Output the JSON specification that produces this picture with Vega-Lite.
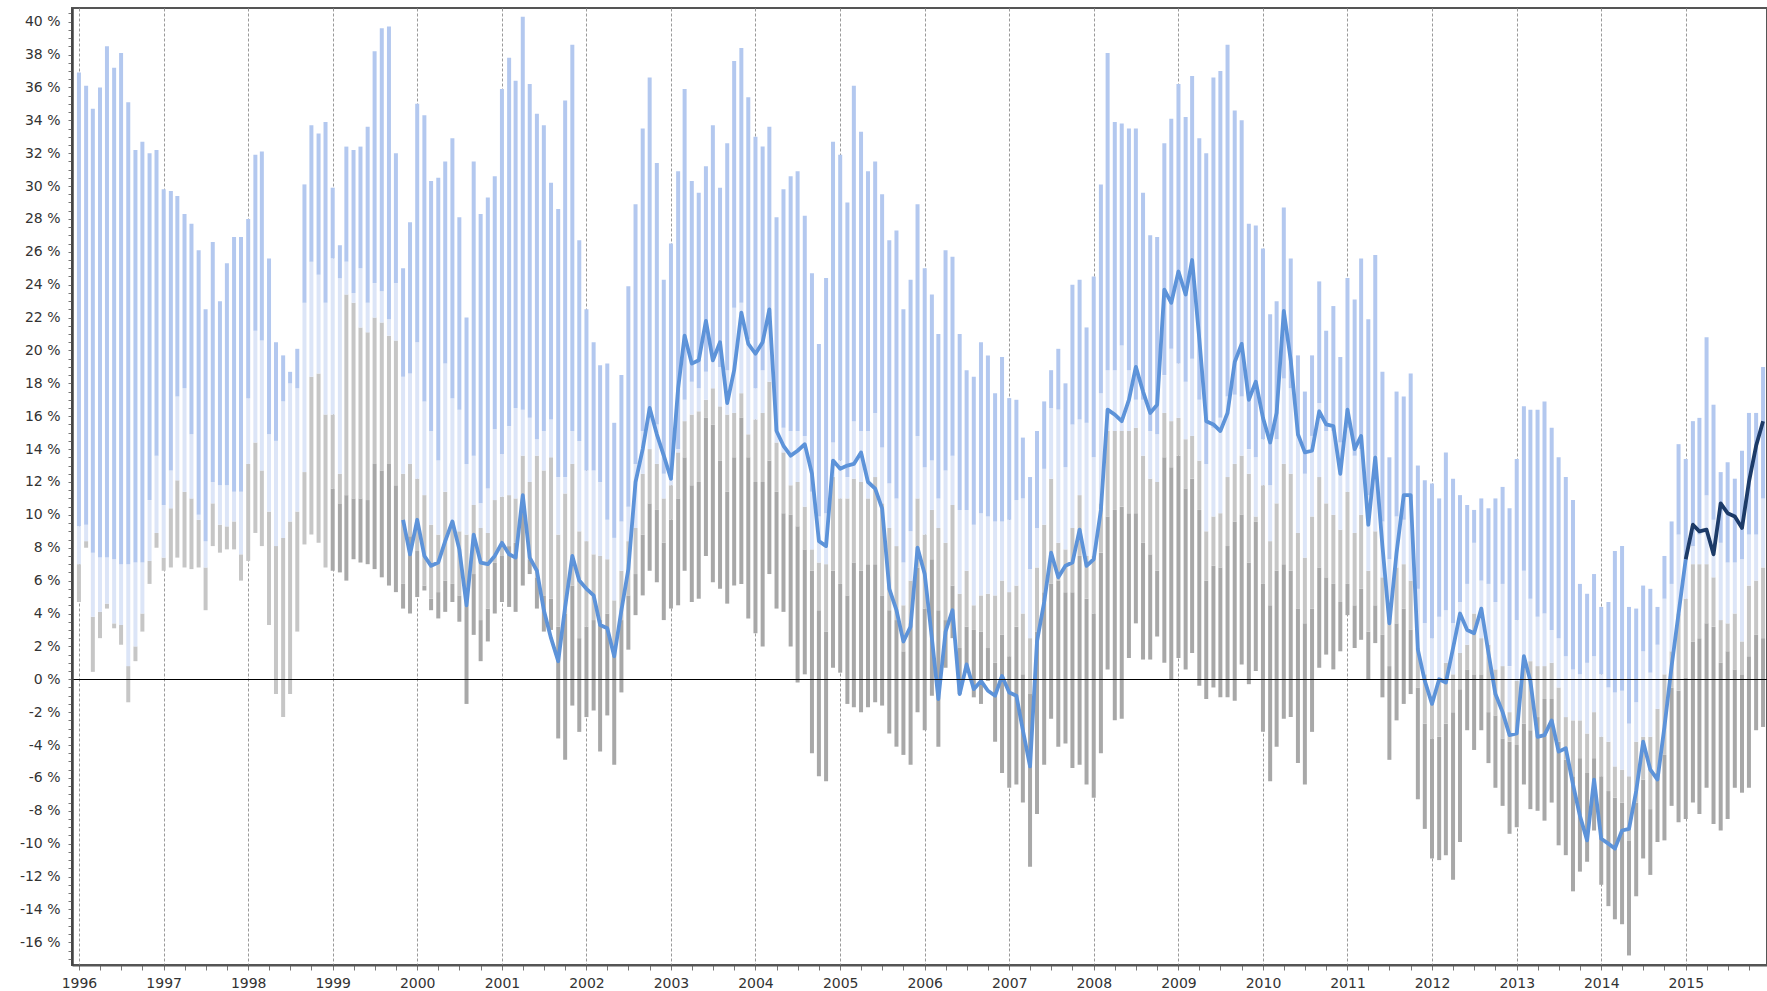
{
"$schema": "https://vega.github.io/schema/vega-lite/v6.json",
"width": 1695, "height": 957,
"autosize": "none",
"padding": {"left": 72, "top": 8, "right": 0, "bottom": 26},
"background": "white",
"config": {
 "view": {"stroke": "#555", "strokeWidth": 2},
 "axis": {"labelFont": "DejaVu Sans", "labelFontSize": 14, "labelColor": "#333"}
},
"data": {"values": [
{"d":"1996-01","hi":36.9,"q3":9.3,"md":7.0,"q1":4.7,"lo":4.7},
{"d":"1996-02","hi":36.1,"q3":9.4,"md":8.4,"q1":8.0,"lo":8.0},
{"d":"1996-03","hi":34.7,"q3":7.7,"md":3.8,"q1":0.45,"lo":0.45},
{"d":"1996-04","hi":36.0,"q3":7.4,"md":4.1,"q1":2.5,"lo":2.5},
{"d":"1996-05","hi":38.5,"q3":7.4,"md":4.6,"q1":4.3,"lo":4.3},
{"d":"1996-06","hi":37.2,"q3":7.3,"md":3.4,"q1":3.1,"lo":3.1},
{"d":"1996-07","hi":38.1,"q3":7.0,"md":3.3,"q1":2.1,"lo":2.1},
{"d":"1996-08","hi":35.1,"q3":7.0,"md":0.8,"q1":-1.4,"lo":-1.4},
{"d":"1996-09","hi":32.2,"q3":7.1,"md":2.0,"q1":1.1,"lo":1.1},
{"d":"1996-10","hi":32.7,"q3":7.1,"md":4.0,"q1":2.9,"lo":2.9},
{"d":"1996-11","hi":32.0,"q3":10.9,"md":7.2,"q1":5.8,"lo":5.8},
{"d":"1996-12","hi":32.2,"q3":13.6,"md":8.9,"q1":8.0,"lo":8.0},
{"d":"1997-01","hi":29.8,"q3":10.6,"md":7.4,"q1":6.6,"lo":6.6},
{"d":"1997-02","hi":29.7,"q3":12.7,"md":10.4,"q1":6.8,"lo":6.8},
{"d":"1997-03","hi":29.4,"q3":17.2,"md":12.1,"q1":7.4,"lo":7.4},
{"d":"1997-04","hi":28.3,"q3":17.7,"md":11.4,"q1":6.8,"lo":6.8},
{"d":"1997-05","hi":27.7,"q3":14.9,"md":11.0,"q1":6.7,"lo":6.7},
{"d":"1997-06","hi":26.1,"q3":10.0,"md":9.7,"q1":6.8,"lo":6.8},
{"d":"1997-07","hi":22.5,"q3":8.4,"md":6.8,"q1":4.2,"lo":4.2},
{"d":"1997-08","hi":26.6,"q3":12.0,"md":10.7,"q1":8.1,"lo":8.1},
{"d":"1997-09","hi":23.0,"q3":11.8,"md":9.4,"q1":7.7,"lo":7.7},
{"d":"1997-10","hi":25.3,"q3":11.8,"md":9.3,"q1":7.9,"lo":7.9},
{"d":"1997-11","hi":26.9,"q3":11.4,"md":9.6,"q1":7.9,"lo":7.9},
{"d":"1997-12","hi":26.9,"q3":11.4,"md":7.6,"q1":6.0,"lo":6.0},
{"d":"1998-01","hi":28.0,"q3":17.1,"md":13.1,"q1":7.2,"lo":7.2},
{"d":"1998-02","hi":31.9,"q3":21.2,"md":14.4,"q1":8.9,"lo":8.9},
{"d":"1998-03","hi":32.1,"q3":20.6,"md":12.7,"q1":8.1,"lo":8.1},
{"d":"1998-04","hi":25.6,"q3":14.9,"md":10.2,"q1":3.3,"lo":3.3},
{"d":"1998-05","hi":20.5,"q3":14.5,"md":8.1,"q1":-0.9,"lo":-0.9},
{"d":"1998-06","hi":19.7,"q3":16.9,"md":8.6,"q1":-2.3,"lo":-2.3},
{"d":"1998-07","hi":18.7,"q3":18.0,"md":9.6,"q1":-0.9,"lo":-0.9},
{"d":"1998-08","hi":20.1,"q3":17.7,"md":10.2,"q1":2.9,"lo":2.9},
{"d":"1998-09","hi":30.1,"q3":22.9,"md":12.6,"q1":8.2,"lo":8.2},
{"d":"1998-10","hi":33.7,"q3":25.4,"md":18.4,"q1":8.8,"lo":8.8},
{"d":"1998-11","hi":33.2,"q3":24.6,"md":18.6,"q1":8.3,"lo":8.3},
{"d":"1998-12","hi":33.9,"q3":22.9,"md":16.1,"q1":6.8,"lo":6.8},
{"d":"1999-01","hi":29.9,"q3":25.6,"md":16.1,"q1":11.6,"lo":6.6},
{"d":"1999-02","hi":26.4,"q3":24.4,"md":12.5,"q1":10.7,"lo":6.5},
{"d":"1999-03","hi":32.4,"q3":25.4,"md":23.4,"q1":11.2,"lo":6.0},
{"d":"1999-04","hi":32.2,"q3":23.5,"md":22.9,"q1":11.0,"lo":7.3},
{"d":"1999-05","hi":32.4,"q3":25.0,"md":21.4,"q1":11.0,"lo":7.1},
{"d":"1999-06","hi":33.6,"q3":22.9,"md":21.1,"q1":10.9,"lo":7.0},
{"d":"1999-07","hi":38.2,"q3":24.1,"md":22.0,"q1":13.1,"lo":6.7},
{"d":"1999-08","hi":39.6,"q3":23.6,"md":21.7,"q1":12.7,"lo":6.2},
{"d":"1999-09","hi":39.7,"q3":21.9,"md":20.9,"q1":13.1,"lo":5.7},
{"d":"1999-10","hi":32.0,"q3":24.1,"md":20.6,"q1":11.8,"lo":5.3},
{"d":"1999-11","hi":25.0,"q3":18.4,"md":12.5,"q1":5.8,"lo":4.3,"v":9.7},
{"d":"1999-12","hi":27.8,"q3":18.6,"md":13.1,"q1":8.7,"lo":4.0,"v":7.6},
{"d":"2000-01","hi":35.0,"q3":20.5,"md":12.2,"q1":7.8,"lo":5.0,"v":9.7},
{"d":"2000-02","hi":34.3,"q3":16.9,"md":11.2,"q1":5.7,"lo":5.4,"v":7.5},
{"d":"2000-03","hi":30.3,"q3":15.1,"md":9.4,"q1":4.9,"lo":4.2,"v":6.9},
{"d":"2000-04","hi":30.5,"q3":13.3,"md":8.8,"q1":5.3,"lo":3.7,"v":7.1},
{"d":"2000-05","hi":31.5,"q3":19.2,"md":11.4,"q1":6.0,"lo":4.1,"v":8.4},
{"d":"2000-06","hi":32.9,"q3":17.1,"md":9.6,"q1":5.8,"lo":4.7,"v":9.6},
{"d":"2000-07","hi":28.1,"q3":16.4,"md":9.0,"q1":5.1,"lo":3.5,"v":7.9},
{"d":"2000-08","hi":22.0,"q3":13.1,"md":8.8,"q1":4.5,"lo":-1.5,"v":4.5},
{"d":"2000-09","hi":31.5,"q3":13.6,"md":10.6,"q1":6.4,"lo":2.7,"v":8.8},
{"d":"2000-10","hi":28.3,"q3":10.7,"md":9.2,"q1":3.6,"lo":1.1,"v":7.1},
{"d":"2000-11","hi":29.3,"q3":11.6,"md":8.9,"q1":4.3,"lo":2.3,"v":7.0},
{"d":"2000-12","hi":30.6,"q3":15.2,"md":10.9,"q1":7.1,"lo":4.0,"v":7.5},
{"d":"2001-01","hi":35.9,"q3":13.7,"md":11.1,"q1":7.5,"lo":4.7,"v":8.3},
{"d":"2001-02","hi":37.8,"q3":15.4,"md":11.2,"q1":8.1,"lo":4.4,"v":7.6},
{"d":"2001-03","hi":36.4,"q3":16.5,"md":11.0,"q1":8.3,"lo":4.1,"v":7.4},
{"d":"2001-04","hi":40.3,"q3":16.4,"md":13.6,"q1":11.0,"lo":5.7,"v":11.2},
{"d":"2001-05","hi":36.2,"q3":15.9,"md":12.0,"q1":7.3,"lo":6.4,"v":7.4},
{"d":"2001-06","hi":34.4,"q3":14.6,"md":13.6,"q1":6.2,"lo":4.3,"v":6.6},
{"d":"2001-07","hi":33.7,"q3":15.1,"md":12.7,"q1":5.1,"lo":2.9,"v":4.2},
{"d":"2001-08","hi":30.2,"q3":15.8,"md":13.5,"q1":4.9,"lo":3.0,"v":2.5},
{"d":"2001-09","hi":28.6,"q3":12.3,"md":8.8,"q1":3.2,"lo":-3.6,"v":1.1},
{"d":"2001-10","hi":35.2,"q3":12.3,"md":11.3,"q1":4.0,"lo":-4.9,"v":4.4},
{"d":"2001-11","hi":38.6,"q3":15.1,"md":13.1,"q1":5.7,"lo":-1.6,"v":7.5},
{"d":"2001-12","hi":26.7,"q3":14.5,"md":9.0,"q1":2.5,"lo":-3.2,"v":6.0},
{"d":"2002-01","hi":22.5,"q3":12.7,"md":8.4,"q1":3.2,"lo":-2.3,"v":5.5},
{"d":"2002-02","hi":20.5,"q3":12.7,"md":7.6,"q1":3.6,"lo":-1.9,"v":5.1},
{"d":"2002-03","hi":19.1,"q3":12.0,"md":7.5,"q1":3.6,"lo":-4.4,"v":3.3},
{"d":"2002-04","hi":19.2,"q3":9.7,"md":7.3,"q1":4.0,"lo":-2.2,"v":3.1},
{"d":"2002-05","hi":15.6,"q3":8.6,"md":4.8,"q1":1.7,"lo":-5.2,"v":1.4},
{"d":"2002-06","hi":18.5,"q3":9.6,"md":6.6,"q1":3.6,"lo":-0.8,"v":4.2},
{"d":"2002-07","hi":23.9,"q3":10.5,"md":8.4,"q1":5.1,"lo":1.8,"v":6.7},
{"d":"2002-08","hi":28.9,"q3":13.1,"md":9.2,"q1":6.4,"lo":3.9,"v":12.0},
{"d":"2002-09","hi":33.5,"q3":15.1,"md":12.5,"q1":8.8,"lo":5.1,"v":14.0},
{"d":"2002-10","hi":36.6,"q3":16.2,"md":14.0,"q1":10.7,"lo":6.6,"v":16.5},
{"d":"2002-11","hi":31.4,"q3":15.5,"md":13.1,"q1":10.3,"lo":5.9,"v":14.9},
{"d":"2002-12","hi":24.3,"q3":12.5,"md":11.0,"q1":8.3,"lo":3.6,"v":13.6},
{"d":"2003-01","hi":26.5,"q3":12.1,"md":11.8,"q1":9.7,"lo":4.3,"v":12.2},
{"d":"2003-02","hi":30.9,"q3":14.0,"md":13.8,"q1":11.0,"lo":4.5,"v":17.7},
{"d":"2003-03","hi":35.9,"q3":17.0,"md":15.7,"q1":13.5,"lo":6.6,"v":20.9},
{"d":"2003-04","hi":30.3,"q3":18.1,"md":16.1,"q1":11.8,"lo":4.7,"v":19.2},
{"d":"2003-05","hi":29.6,"q3":17.7,"md":16.3,"q1":12.0,"lo":4.9,"v":19.4},
{"d":"2003-06","hi":31.2,"q3":18.7,"md":17.0,"q1":15.9,"lo":7.5,"v":21.8},
{"d":"2003-07","hi":33.7,"q3":19.4,"md":17.7,"q1":15.5,"lo":5.9,"v":19.4},
{"d":"2003-08","hi":29.9,"q3":19.0,"md":16.6,"q1":13.3,"lo":5.5,"v":20.5},
{"d":"2003-09","hi":32.6,"q3":18.8,"md":16.1,"q1":11.4,"lo":4.6,"v":16.8},
{"d":"2003-10","hi":37.6,"q3":22.6,"md":16.2,"q1":13.5,"lo":5.7,"v":18.8},
{"d":"2003-11","hi":38.4,"q3":22.9,"md":17.4,"q1":15.9,"lo":5.8,"v":22.3},
{"d":"2003-12","hi":35.4,"q3":20.7,"md":14.9,"q1":13.5,"lo":3.7,"v":20.4},
{"d":"2004-01","hi":33.0,"q3":17.7,"md":15.8,"q1":12.0,"lo":2.8,"v":19.8},
{"d":"2004-02","hi":32.4,"q3":18.8,"md":16.2,"q1":12.0,"lo":2.0,"v":20.5},
{"d":"2004-03","hi":33.6,"q3":22.2,"md":18.1,"q1":13.3,"lo":6.4,"v":22.5},
{"d":"2004-04","hi":28.1,"q3":15.1,"md":14.4,"q1":11.4,"lo":4.3,"v":15.1},
{"d":"2004-05","hi":29.8,"q3":15.3,"md":13.8,"q1":10.1,"lo":4.1,"v":14.2},
{"d":"2004-06","hi":30.6,"q3":15.1,"md":11.8,"q1":10.0,"lo":2.0,"v":13.6},
{"d":"2004-07","hi":30.9,"q3":15.1,"md":12.0,"q1":9.3,"lo":-0.2,"v":13.9},
{"d":"2004-08","hi":28.2,"q3":14.8,"md":10.5,"q1":7.9,"lo":0.3,"v":14.3},
{"d":"2004-09","hi":24.7,"q3":11.4,"md":7.9,"q1":6.6,"lo":-4.5,"v":12.5},
{"d":"2004-10","hi":20.4,"q3":9.9,"md":7.1,"q1":4.2,"lo":-5.9,"v":8.4},
{"d":"2004-11","hi":24.4,"q3":10.1,"md":7.0,"q1":2.9,"lo":-6.2,"v":8.1},
{"d":"2004-12","hi":32.7,"q3":14.4,"md":12.3,"q1":6.6,"lo":0.7,"v":13.3},
{"d":"2005-01","hi":31.9,"q3":13.3,"md":11.0,"q1":5.8,"lo":0.4,"v":12.8},
{"d":"2005-02","hi":29.0,"q3":12.3,"md":11.0,"q1":5.1,"lo":-1.5,"v":13.0},
{"d":"2005-03","hi":36.1,"q3":15.7,"md":12.2,"q1":7.1,"lo":-1.7,"v":13.1},
{"d":"2005-04","hi":33.3,"q3":15.1,"md":12.0,"q1":6.6,"lo":-2.0,"v":13.8},
{"d":"2005-05","hi":30.9,"q3":15.1,"md":11.0,"q1":7.0,"lo":-1.7,"v":12.0},
{"d":"2005-06","hi":31.5,"q3":16.2,"md":12.3,"q1":7.0,"lo":-1.4,"v":11.6},
{"d":"2005-07","hi":29.5,"q3":14.1,"md":10.7,"q1":5.1,"lo":-1.6,"v":10.4},
{"d":"2005-08","hi":26.7,"q3":11.9,"md":9.2,"q1":4.2,"lo":-3.3,"v":5.5},
{"d":"2005-09","hi":27.3,"q3":11.0,"md":8.1,"q1":3.6,"lo":-4.1,"v":4.2},
{"d":"2005-10","hi":22.5,"q3":7.1,"md":4.5,"q1":1.7,"lo":-4.6,"v":2.3},
{"d":"2005-11","hi":24.3,"q3":9.0,"md":6.0,"q1":3.4,"lo":-5.2,"v":3.2},
{"d":"2005-12","hi":28.9,"q3":14.8,"md":11.0,"q1":6.8,"lo":-2.0,"v":8.0},
{"d":"2006-01","hi":25.0,"q3":12.9,"md":8.8,"q1":4.3,"lo":-3.1,"v":6.4},
{"d":"2006-02","hi":23.4,"q3":13.3,"md":10.3,"q1":7.3,"lo":-1.0,"v":2.5},
{"d":"2006-03","hi":21.0,"q3":11.0,"md":9.2,"q1":4.2,"lo":-4.1,"v":-1.2},
{"d":"2006-04","hi":26.1,"q3":12.7,"md":8.3,"q1":3.6,"lo":0.7,"v":2.9},
{"d":"2006-05","hi":25.7,"q3":13.6,"md":10.6,"q1":5.7,"lo":2.5,"v":4.2},
{"d":"2006-06","hi":21.0,"q3":10.3,"md":5.2,"q1":1.9,"lo":-0.9,"v":-0.9},
{"d":"2006-07","hi":18.8,"q3":10.3,"md":6.6,"q1":3.2,"lo":0.4,"v":0.9},
{"d":"2006-08","hi":18.4,"q3":9.4,"md":4.5,"q1":3.0,"lo":-1.1,"v":-0.6},
{"d":"2006-09","hi":20.5,"q3":10.1,"md":5.1,"q1":2.9,"lo":-1.5,"v":-0.1},
{"d":"2006-10","hi":19.7,"q3":9.9,"md":5.2,"q1":1.9,"lo":-0.1,"v":-0.7},
{"d":"2006-11","hi":17.4,"q3":9.6,"md":5.1,"q1":1.0,"lo":-3.8,"v":-1.0},
{"d":"2006-12","hi":19.6,"q3":9.6,"md":6.0,"q1":2.7,"lo":-5.7,"v":0.2},
{"d":"2007-01","hi":17.1,"q3":9.7,"md":5.3,"q1":1.4,"lo":-6.6,"v":-0.8},
{"d":"2007-02","hi":17.0,"q3":10.9,"md":5.7,"q1":3.2,"lo":-6.4,"v":-1.0},
{"d":"2007-03","hi":14.7,"q3":11.0,"md":4.0,"q1":0.3,"lo":-7.5,"v":-3.1},
{"d":"2007-04","hi":12.3,"q3":6.7,"md":2.5,"q1":-0.9,"lo":-11.4,"v":-5.3},
{"d":"2007-05","hi":15.1,"q3":9.2,"md":6.8,"q1":2.9,"lo":-8.2,"v":2.3},
{"d":"2007-06","hi":16.9,"q3":12.8,"md":9.4,"q1":5.3,"lo":-5.2,"v":4.7},
{"d":"2007-07","hi":18.8,"q3":16.5,"md":12.2,"q1":5.8,"lo":-2.4,"v":7.7},
{"d":"2007-08","hi":20.1,"q3":16.4,"md":8.3,"q1":6.0,"lo":-4.1,"v":6.2},
{"d":"2007-09","hi":18.0,"q3":12.9,"md":7.9,"q1":5.3,"lo":-3.9,"v":6.9},
{"d":"2007-10","hi":24.0,"q3":15.5,"md":9.2,"q1":5.3,"lo":-5.4,"v":7.1},
{"d":"2007-11","hi":24.3,"q3":15.8,"md":11.2,"q1":7.5,"lo":-5.2,"v":9.1},
{"d":"2007-12","hi":21.4,"q3":15.6,"md":7.5,"q1":4.9,"lo":-6.4,"v":6.9},
{"d":"2008-01","hi":24.5,"q3":13.5,"md":7.5,"q1":4.0,"lo":-7.2,"v":7.3},
{"d":"2008-02","hi":30.1,"q3":17.4,"md":10.7,"q1":7.7,"lo":-4.5,"v":10.3},
{"d":"2008-03","hi":38.1,"q3":18.8,"md":15.1,"q1":9.9,"lo":0.6,"v":16.4},
{"d":"2008-04","hi":33.9,"q3":18.8,"md":15.1,"q1":10.3,"lo":-2.5,"v":16.1},
{"d":"2008-05","hi":33.8,"q3":20.3,"md":15.1,"q1":10.5,"lo":-2.4,"v":15.7},
{"d":"2008-06","hi":33.5,"q3":18.8,"md":15.1,"q1":10.1,"lo":1.3,"v":17.0},
{"d":"2008-07","hi":33.5,"q3":17.0,"md":15.3,"q1":10.1,"lo":3.4,"v":19.0},
{"d":"2008-08","hi":29.6,"q3":17.0,"md":13.6,"q1":8.3,"lo":1.2,"v":17.5},
{"d":"2008-09","hi":27.0,"q3":15.1,"md":12.2,"q1":7.6,"lo":1.2,"v":16.2},
{"d":"2008-10","hi":26.9,"q3":14.9,"md":12.0,"q1":6.6,"lo":2.6,"v":16.7},
{"d":"2008-11","hi":32.6,"q3":18.5,"md":16.2,"q1":13.5,"lo":1.0,"v":23.7},
{"d":"2008-12","hi":34.1,"q3":20.1,"md":15.7,"q1":12.9,"lo":0.0,"v":22.9},
{"d":"2009-01","hi":36.2,"q3":19.2,"md":15.9,"q1":13.6,"lo":1.3,"v":24.8},
{"d":"2009-02","hi":34.2,"q3":18.1,"md":14.6,"q1":11.6,"lo":0.6,"v":23.4},
{"d":"2009-03","hi":36.7,"q3":19.5,"md":14.8,"q1":12.2,"lo":1.6,"v":25.5},
{"d":"2009-04","hi":32.9,"q3":17.0,"md":13.3,"q1":10.3,"lo":-0.4,"v":20.7},
{"d":"2009-05","hi":32.0,"q3":13.1,"md":9.0,"q1":6.0,"lo":-1.2,"v":15.7},
{"d":"2009-06","hi":36.6,"q3":15.3,"md":9.9,"q1":6.9,"lo":-0.5,"v":15.5},
{"d":"2009-07","hi":37.0,"q3":15.9,"md":10.1,"q1":6.8,"lo":-1.1,"v":15.1},
{"d":"2009-08","hi":38.6,"q3":17.2,"md":12.3,"q1":8.1,"lo":-1.1,"v":16.2},
{"d":"2009-09","hi":34.6,"q3":17.3,"md":13.1,"q1":9.6,"lo":-1.3,"v":19.3},
{"d":"2009-10","hi":34.0,"q3":17.2,"md":13.6,"q1":10.0,"lo":0.9,"v":20.4},
{"d":"2009-11","hi":27.7,"q3":14.0,"md":12.5,"q1":7.1,"lo":-0.3,"v":17.0},
{"d":"2009-12","hi":27.6,"q3":13.5,"md":9.9,"q1":9.6,"lo":0.5,"v":18.1},
{"d":"2010-01","hi":26.2,"q3":14.6,"md":11.8,"q1":5.8,"lo":-3.2,"v":15.9},
{"d":"2010-02","hi":22.2,"q3":11.8,"md":8.4,"q1":4.5,"lo":-6.2,"v":14.4},
{"d":"2010-03","hi":23.0,"q3":14.6,"md":10.7,"q1":6.6,"lo":-4.1,"v":16.2},
{"d":"2010-04","hi":28.7,"q3":18.3,"md":13.1,"q1":7.0,"lo":-2.4,"v":22.4},
{"d":"2010-05","hi":25.6,"q3":17.7,"md":12.5,"q1":6.6,"lo":-2.3,"v":19.4},
{"d":"2010-06","hi":19.7,"q3":14.8,"md":8.9,"q1":4.3,"lo":-5.1,"v":14.9},
{"d":"2010-07","hi":17.5,"q3":12.5,"md":7.4,"q1":3.4,"lo":-6.4,"v":13.8},
{"d":"2010-08","hi":19.7,"q3":14.8,"md":9.9,"q1":4.3,"lo":-3.2,"v":13.9},
{"d":"2010-09","hi":24.2,"q3":16.8,"md":12.3,"q1":6.8,"lo":0.7,"v":16.3},
{"d":"2010-10","hi":21.2,"q3":15.1,"md":10.7,"q1":6.2,"lo":1.5,"v":15.5},
{"d":"2010-11","hi":22.7,"q3":15.1,"md":10.0,"q1":5.8,"lo":0.6,"v":15.4},
{"d":"2010-12","hi":19.6,"q3":14.4,"md":9.1,"q1":4.7,"lo":1.7,"v":12.5},
{"d":"2011-01","hi":24.4,"q3":15.3,"md":11.4,"q1":5.8,"lo":3.9,"v":16.4},
{"d":"2011-02","hi":23.1,"q3":13.6,"md":8.9,"q1":4.5,"lo":1.9,"v":14.0},
{"d":"2011-03","hi":25.6,"q3":14.0,"md":10.0,"q1":5.5,"lo":2.4,"v":14.8},
{"d":"2011-04","hi":21.9,"q3":11.2,"md":6.6,"q1":2.9,"lo":0.0,"v":9.4},
{"d":"2011-05","hi":25.8,"q3":13.6,"md":9.0,"q1":4.5,"lo":2.2,"v":13.5},
{"d":"2011-06","hi":18.7,"q3":9.6,"md":6.2,"q1":2.7,"lo":-1.1,"v":8.1},
{"d":"2011-07","hi":13.5,"q3":7.3,"md":4.0,"q1":0.8,"lo":-4.9,"v":3.4},
{"d":"2011-08","hi":17.5,"q3":9.9,"md":6.8,"q1":3.4,"lo":-2.5,"v":7.7},
{"d":"2011-09","hi":17.2,"q3":9.7,"md":7.0,"q1":4.3,"lo":-1.5,"v":11.2},
{"d":"2011-10","hi":18.6,"q3":11.0,"md":6.0,"q1":3.0,"lo":-0.9,"v":11.2},
{"d":"2011-11","hi":13.0,"q3":5.5,"md":1.9,"q1":-0.5,"lo":-7.3,"v":1.8},
{"d":"2011-12","hi":12.1,"q3":3.4,"md":0.3,"q1":-2.7,"lo":-9.1,"v":-0.1},
{"d":"2012-01","hi":11.9,"q3":2.5,"md":-1.0,"q1":-3.6,"lo":-10.9,"v":-1.5},
{"d":"2012-02","hi":11.0,"q3":3.8,"md":-0.1,"q1":-3.5,"lo":-11.0,"v":0.0},
{"d":"2012-03","hi":13.8,"q3":4.2,"md":1.0,"q1":-2.7,"lo":-10.7,"v":-0.2},
{"d":"2012-04","hi":12.2,"q3":3.4,"md":0.3,"q1":-2.0,"lo":-12.2,"v":1.9},
{"d":"2012-05","hi":11.2,"q3":4.7,"md":1.6,"q1":-0.6,"lo":-9.9,"v":4.0},
{"d":"2012-06","hi":10.6,"q3":5.8,"md":2.1,"q1":0.6,"lo":-3.1,"v":3.0},
{"d":"2012-07","hi":10.3,"q3":8.3,"md":4.0,"q1":0.3,"lo":-4.3,"v":2.8},
{"d":"2012-08","hi":11.0,"q3":6.0,"md":2.5,"q1":0.3,"lo":-3.1,"v":4.3},
{"d":"2012-09","hi":10.4,"q3":5.8,"md":2.1,"q1":-2.0,"lo":-5.1,"v":1.6},
{"d":"2012-10","hi":11.0,"q3":4.7,"md":0.6,"q1":-2.2,"lo":-6.6,"v":-0.9},
{"d":"2012-11","hi":11.7,"q3":5.8,"md":0.8,"q1":-3.6,"lo":-7.7,"v":-2.0},
{"d":"2012-12","hi":10.4,"q3":0.8,"md":-2.0,"q1":-3.8,"lo":-9.4,"v":-3.4},
{"d":"2013-01","hi":13.4,"q3":3.6,"md":-0.1,"q1":-4.0,"lo":-9.0,"v":-3.3},
{"d":"2013-02","hi":16.6,"q3":6.6,"md":0.9,"q1":-2.7,"lo":-6.4,"v":1.4},
{"d":"2013-03","hi":16.4,"q3":4.9,"md":1.1,"q1":-3.1,"lo":-7.9,"v":-0.1},
{"d":"2013-04","hi":16.4,"q3":3.8,"md":0.8,"q1":-2.3,"lo":-8.0,"v":-3.5},
{"d":"2013-05","hi":16.9,"q3":4.0,"md":0.8,"q1":-1.2,"lo":-8.6,"v":-3.4},
{"d":"2013-06","hi":15.3,"q3":3.0,"md":1.0,"q1":-1.2,"lo":-7.5,"v":-2.5},
{"d":"2013-07","hi":13.5,"q3":2.5,"md":-0.5,"q1":-3.8,"lo":-10.1,"v":-4.4},
{"d":"2013-08","hi":12.3,"q3":1.4,"md":-2.3,"q1":-4.9,"lo":-10.7,"v":-4.2},
{"d":"2013-09","hi":10.9,"q3":0.6,"md":-2.5,"q1":-5.9,"lo":-12.9,"v":-6.4},
{"d":"2013-10","hi":5.8,"q3":0.3,"md":-2.5,"q1":-4.8,"lo":-11.7,"v":-8.3},
{"d":"2013-11","hi":5.2,"q3":1.0,"md":-3.3,"q1":-5.7,"lo":-11.1,"v":-9.8},
{"d":"2013-12","hi":6.4,"q3":1.4,"md":-2.0,"q1":-4.8,"lo":-9.2,"v":-6.1},
{"d":"2014-01","hi":4.4,"q3":0.3,"md":-3.5,"q1":-5.9,"lo":-12.5,"v":-9.7},
{"d":"2014-02","hi":4.7,"q3":-0.5,"md":-3.8,"q1":-6.8,"lo":-13.8,"v":-10.0},
{"d":"2014-03","hi":7.8,"q3":-0.8,"md":-5.3,"q1":-7.2,"lo":-14.6,"v":-10.3},
{"d":"2014-04","hi":8.1,"q3":-0.7,"md":-5.5,"q1":-7.5,"lo":-14.9,"v":-9.2},
{"d":"2014-05","hi":4.4,"q3":-2.7,"md":-5.9,"q1":-9.8,"lo":-16.8,"v":-9.1},
{"d":"2014-06","hi":4.3,"q3":-1.4,"md":-3.8,"q1":-7.5,"lo":-13.2,"v":-6.8},
{"d":"2014-07","hi":5.7,"q3":1.7,"md":-3.5,"q1":-6.1,"lo":-10.9,"v":-3.8},
{"d":"2014-08","hi":5.5,"q3":0.4,"md":-3.5,"q1":-7.9,"lo":-11.9,"v":-5.5},
{"d":"2014-09","hi":4.4,"q3":2.1,"md":-1.8,"q1":-5.7,"lo":-9.9,"v":-6.1},
{"d":"2014-10","hi":7.5,"q3":4.9,"md":0.3,"q1":-4.6,"lo":-9.8,"v":-2.9},
{"d":"2014-11","hi":9.6,"q3":5.8,"md":1.7,"q1":-0.5,"lo":-7.7,"v":0.8},
{"d":"2014-12","hi":14.3,"q3":8.8,"md":4.0,"q1":-0.7,"lo":-8.7,"v":4.0},
{"d":"2015-01","hi":13.4,"q3":7.3,"md":4.9,"q1":0.1,"lo":-8.5,"v":7.3,"v2":7.3},
{"d":"2015-02","hi":15.7,"q3":8.1,"md":7.0,"q1":2.3,"lo":-7.5,"v2":9.4},
{"d":"2015-03","hi":15.9,"q3":8.8,"md":7.0,"q1":2.5,"lo":-8.2,"v2":9.0},
{"d":"2015-04","hi":20.8,"q3":11.2,"md":7.0,"q1":3.4,"lo":-6.6,"v2":9.1},
{"d":"2015-05","hi":16.7,"q3":9.7,"md":6.2,"q1":3.2,"lo":-8.8,"v2":7.6},
{"d":"2015-06","hi":12.6,"q3":8.3,"md":3.6,"q1":1.0,"lo":-9.2,"v2":10.7},
{"d":"2015-07","hi":13.2,"q3":7.1,"md":3.4,"q1":1.7,"lo":-8.5,"v2":10.1},
{"d":"2015-08","hi":12.2,"q3":7.1,"md":4.0,"q1":0.6,"lo":-6.6,"v2":9.9},
{"d":"2015-09","hi":13.9,"q3":7.3,"md":2.3,"q1":0.3,"lo":-6.9,"v2":9.2},
{"d":"2015-10","hi":16.2,"q3":8.8,"md":5.7,"q1":1.4,"lo":-6.6,"v2":12.0},
{"d":"2015-11","hi":16.2,"q3":8.8,"md":6.0,"q1":2.7,"lo":-3.1,"v2":14.2},
{"d":"2015-12","hi":19.0,"q3":11.0,"md":6.8,"q1":2.5,"lo":-2.9,"v2":15.7}
]},
"encoding": {
 "x": {"field": "d", "type": "temporal",
   "scale": {"type": "utc", "domain": [{"year": 1995, "month": 12, "date": 2, "utc": true}, {"year": 2015, "month": 12, "date": 18, "utc": true}], "nice": false, "padding": 0},
   "axis": {"title": null, "orient": "bottom", "tickCount": {"interval": "month", "step": 3},
     "labelExpr": "utcmonth(datum.value) === 0 ? utcFormat(datum.value, '%Y') : ''",
     "labelOverlap": false, "labelFlush": false, "labelBound": false,
     "grid": true, "gridColor": "#9a9a9a", "gridDash": [3, 2], "gridWidth": 1,
     "gridOpacity": {"condition": {"test": "utcmonth(datum.value) === 0", "value": 1}, "value": 0},
     "tickSize": 5, "tickColor": "#777", "domainColor": "#555", "domainWidth": 2, "labelPadding": 6}}
},
"layer": [
 {"mark": {"type": "bar", "width": 4, "color": "#a8a8a8"},
  "encoding": {
   "y": {"field": "lo", "type": "quantitative",
     "scale": {"domain": [-17.38, 40.83], "nice": false, "zero": false, "padding": 0},
     "axis": {"title": null, "orient": "left", "tickCount": 116, "zindex": 1,
       "labelExpr": "abs(datum.value - 2 * round(datum.value / 2)) < 0.01 ? (datum.value + ' %') : ''",
       "labelOverlap": false, "labelFlush": false, "labelBound": false,
       "grid": true, "gridColor": "#000", "gridWidth": 1,
       "gridOpacity": {"condition": {"test": "abs(datum.value) < 0.01", "value": 1}, "value": 0},
       "tickSize": 4, "tickColor": "#777", "domainColor": "#444", "domainWidth": 2.5, "labelPadding": 8}},
   "y2": {"field": "q1"}
  }},
 {"mark": {"type": "bar", "width": 4, "color": "#c6c6c6"},
  "encoding": {
   "y": {"field": "q1", "type": "quantitative",
     "axis": {"title": null, "orient": "left", "tickCount": 116, "zindex": 1,
       "labelExpr": "abs(datum.value - 2 * round(datum.value / 2)) < 0.01 ? (datum.value + ' %') : ''",
       "labelOverlap": false, "labelFlush": false, "labelBound": false,
       "grid": true, "gridColor": "#000", "gridWidth": 1,
       "gridOpacity": {"condition": {"test": "abs(datum.value) < 0.01", "value": 1}, "value": 0},
       "tickSize": 4, "tickColor": "#777", "domainColor": "#444", "domainWidth": 2.5, "labelPadding": 8}},
   "y2": {"field": "md"}}},
 {"mark": {"type": "bar", "width": 4, "color": "#dce5f7"},
  "encoding": {
   "y": {"field": "md", "type": "quantitative",
     "axis": {"title": null, "orient": "left", "tickCount": 116, "zindex": 1,
       "labelExpr": "abs(datum.value - 2 * round(datum.value / 2)) < 0.01 ? (datum.value + ' %') : ''",
       "labelOverlap": false, "labelFlush": false, "labelBound": false,
       "grid": true, "gridColor": "#000", "gridWidth": 1,
       "gridOpacity": {"condition": {"test": "abs(datum.value) < 0.01", "value": 1}, "value": 0},
       "tickSize": 4, "tickColor": "#777", "domainColor": "#444", "domainWidth": 2.5, "labelPadding": 8}},
   "y2": {"field": "q3"}}},
 {"mark": {"type": "bar", "width": 4, "color": "#b3c8ef"},
  "encoding": {
   "y": {"field": "q3", "type": "quantitative",
     "axis": {"title": null, "orient": "left", "tickCount": 116, "zindex": 1,
       "labelExpr": "abs(datum.value - 2 * round(datum.value / 2)) < 0.01 ? (datum.value + ' %') : ''",
       "labelOverlap": false, "labelFlush": false, "labelBound": false,
       "grid": true, "gridColor": "#000", "gridWidth": 1,
       "gridOpacity": {"condition": {"test": "abs(datum.value) < 0.01", "value": 1}, "value": 0},
       "tickSize": 4, "tickColor": "#777", "domainColor": "#444", "domainWidth": 2.5, "labelPadding": 8}},
   "y2": {"field": "hi"}}},
 {"transform": [{"filter": "isValid(datum.v)"}],
  "mark": {"type": "line", "color": "#5d93d9", "strokeWidth": 3.8, "strokeJoin": "round"},
  "encoding": {
   "y": {"field": "v", "type": "quantitative",
     "axis": {"title": null, "orient": "left", "tickCount": 116, "zindex": 1,
       "labelExpr": "abs(datum.value - 2 * round(datum.value / 2)) < 0.01 ? (datum.value + ' %') : ''",
       "labelOverlap": false, "labelFlush": false, "labelBound": false,
       "grid": true, "gridColor": "#000", "gridWidth": 1,
       "gridOpacity": {"condition": {"test": "abs(datum.value) < 0.01", "value": 1}, "value": 0},
       "tickSize": 4, "tickColor": "#777", "domainColor": "#444", "domainWidth": 2.5, "labelPadding": 8}}}},
 {"transform": [{"filter": "isValid(datum.v2)"}],
  "mark": {"type": "line", "color": "#1d3b68", "strokeWidth": 3.8, "strokeJoin": "round"},
  "encoding": {
   "y": {"field": "v2", "type": "quantitative",
     "axis": {"title": null, "orient": "left", "tickCount": 116, "zindex": 1,
       "labelExpr": "abs(datum.value - 2 * round(datum.value / 2)) < 0.01 ? (datum.value + ' %') : ''",
       "labelOverlap": false, "labelFlush": false, "labelBound": false,
       "grid": true, "gridColor": "#000", "gridWidth": 1,
       "gridOpacity": {"condition": {"test": "abs(datum.value) < 0.01", "value": 1}, "value": 0},
       "tickSize": 4, "tickColor": "#777", "domainColor": "#444", "domainWidth": 2.5, "labelPadding": 8}}}}
]
}
